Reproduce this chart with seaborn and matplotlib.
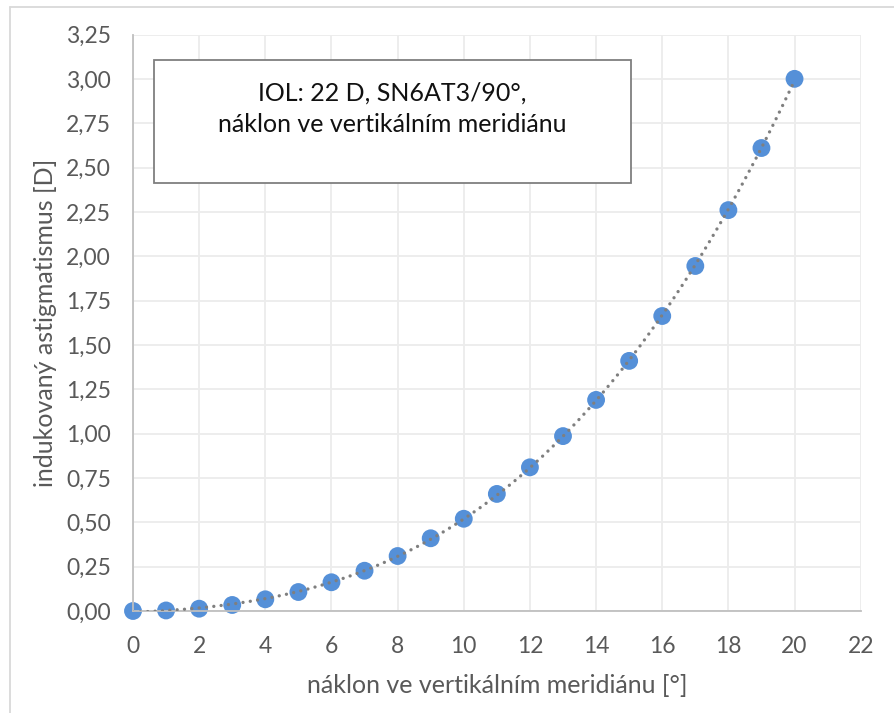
import numpy as np
import pandas as pd
import matplotlib
matplotlib.use("Agg")
import matplotlib.pyplot as plt
from matplotlib.patches import Rectangle
import seaborn as sns

# Tilt angle [deg] and induced astigmatism [D]
tilt = [0, 1, 2, 3, 4, 5, 6, 7, 8, 9, 10, 11, 12, 13, 14, 15, 16, 17, 18, 19, 20]
astig = [0.00, 0.003, 0.013, 0.034, 0.066, 0.107, 0.162, 0.227, 0.31, 0.41, 0.52,
         0.66, 0.81, 0.986, 1.19, 1.41, 1.663, 1.945, 2.26, 2.61, 3.00]

x_ticks = [0, 2, 4, 6, 8, 10, 12, 14, 16, 18, 20, 22]
y_ticks = [0.00, 0.25, 0.50, 0.75, 1.00, 1.25, 1.50, 1.75, 2.00, 2.25, 2.50, 2.75, 3.00, 3.25]

x_label = "náklon ve vertikálním meridiánu [°]"
y_label = "indukovaný astigmatismus [D]"
box_line1 = "IOL: 22 D, SN6AT3/90°,"
box_line2 = "náklon ve vertikálním meridiánu"

sns.set_theme(style="white")
plt.rcParams["font.family"] = ["Lato", "DejaVu Sans"]

df = pd.DataFrame({"tilt": tilt, "astig": astig})

# polynomial trendline through the measured points
coef = np.polyfit(df["tilt"], df["astig"], 3)
xt = np.linspace(0, 20, 300)
trend = pd.DataFrame({"tilt": xt, "astig": np.polyval(coef, xt)})

fig = plt.figure(figsize=(8.95, 7.13), dpi=100)
ax = fig.add_axes([133 / 895, 1 - 611 / 713, (860.7 - 133) / 895, (611 - 34.5) / 713])

sns.lineplot(data=trend, x="tilt", y="astig", ax=ax, color="#7f7f7f", lw=2.4,
             dashes=False, zorder=3)
ln = ax.lines[-1]
ln.set_linestyle((0, (0.01, 2.2)))
ln.set_dash_capstyle("round")

sns.scatterplot(data=df, x="tilt", y="astig", ax=ax, s=165, color="#5590D8",
                edgecolor="none", zorder=2, clip_on=False)

ax.set_xlim(0, 22)
ax.set_ylim(0, 3.25)
ax.set_xticks(x_ticks)
ax.set_yticks(y_ticks)
ax.set_xticklabels([str(v) for v in x_ticks])
ax.set_yticklabels([f"{v:.2f}".replace(".", ",") for v in y_ticks])
ax.tick_params(axis="both", length=0, labelsize=16.5, labelcolor="#595959")
ax.tick_params(axis="x", pad=18)
ax.tick_params(axis="y", pad=16)

ax.grid(True, color="#ececec", lw=1.3)
ax.set_axisbelow(True)
for side in ["top", "right"]:
    ax.spines[side].set_visible(False)
for side in ["left", "bottom"]:
    ax.spines[side].set_color("#bfbfbf")
    ax.spines[side].set_linewidth(1.3)

ax.set_xlabel(x_label, fontsize=18, color="#595959", labelpad=12)
ax.set_ylabel(y_label, fontsize=18, color="#595959", labelpad=6)

# framed title box inside the plot area
bx0, by0, bx1, by1 = 154, 60, 631, 183
fig.patches.append(Rectangle((bx0 / 895, 1 - by1 / 713), (bx1 - bx0) / 895, (by1 - by0) / 713,
                             transform=fig.transFigure, facecolor="white",
                             edgecolor="#7f7f7f", lw=1.3, zorder=5))
fig.text(392.5 / 895, 1 - 93 / 713, box_line1, ha="center", va="center",
         fontsize=18, color="#111111", zorder=6)
fig.text(392.5 / 895, 1 - 125 / 713, box_line2, ha="center", va="center",
         fontsize=18, color="#111111", zorder=6)

# chart outer frame (left and top edges)
fig.add_artist(plt.Line2D([10 / 895, 10 / 895], [0, 1 - 7 / 713], transform=fig.transFigure,
                          color="#d9d9d9", lw=1.3))
fig.add_artist(plt.Line2D([10 / 895, 1], [1 - 7 / 713, 1 - 7 / 713], transform=fig.transFigure,
                          color="#d9d9d9", lw=1.3))

fig.savefig("out.png", dpi=100, facecolor="white")
